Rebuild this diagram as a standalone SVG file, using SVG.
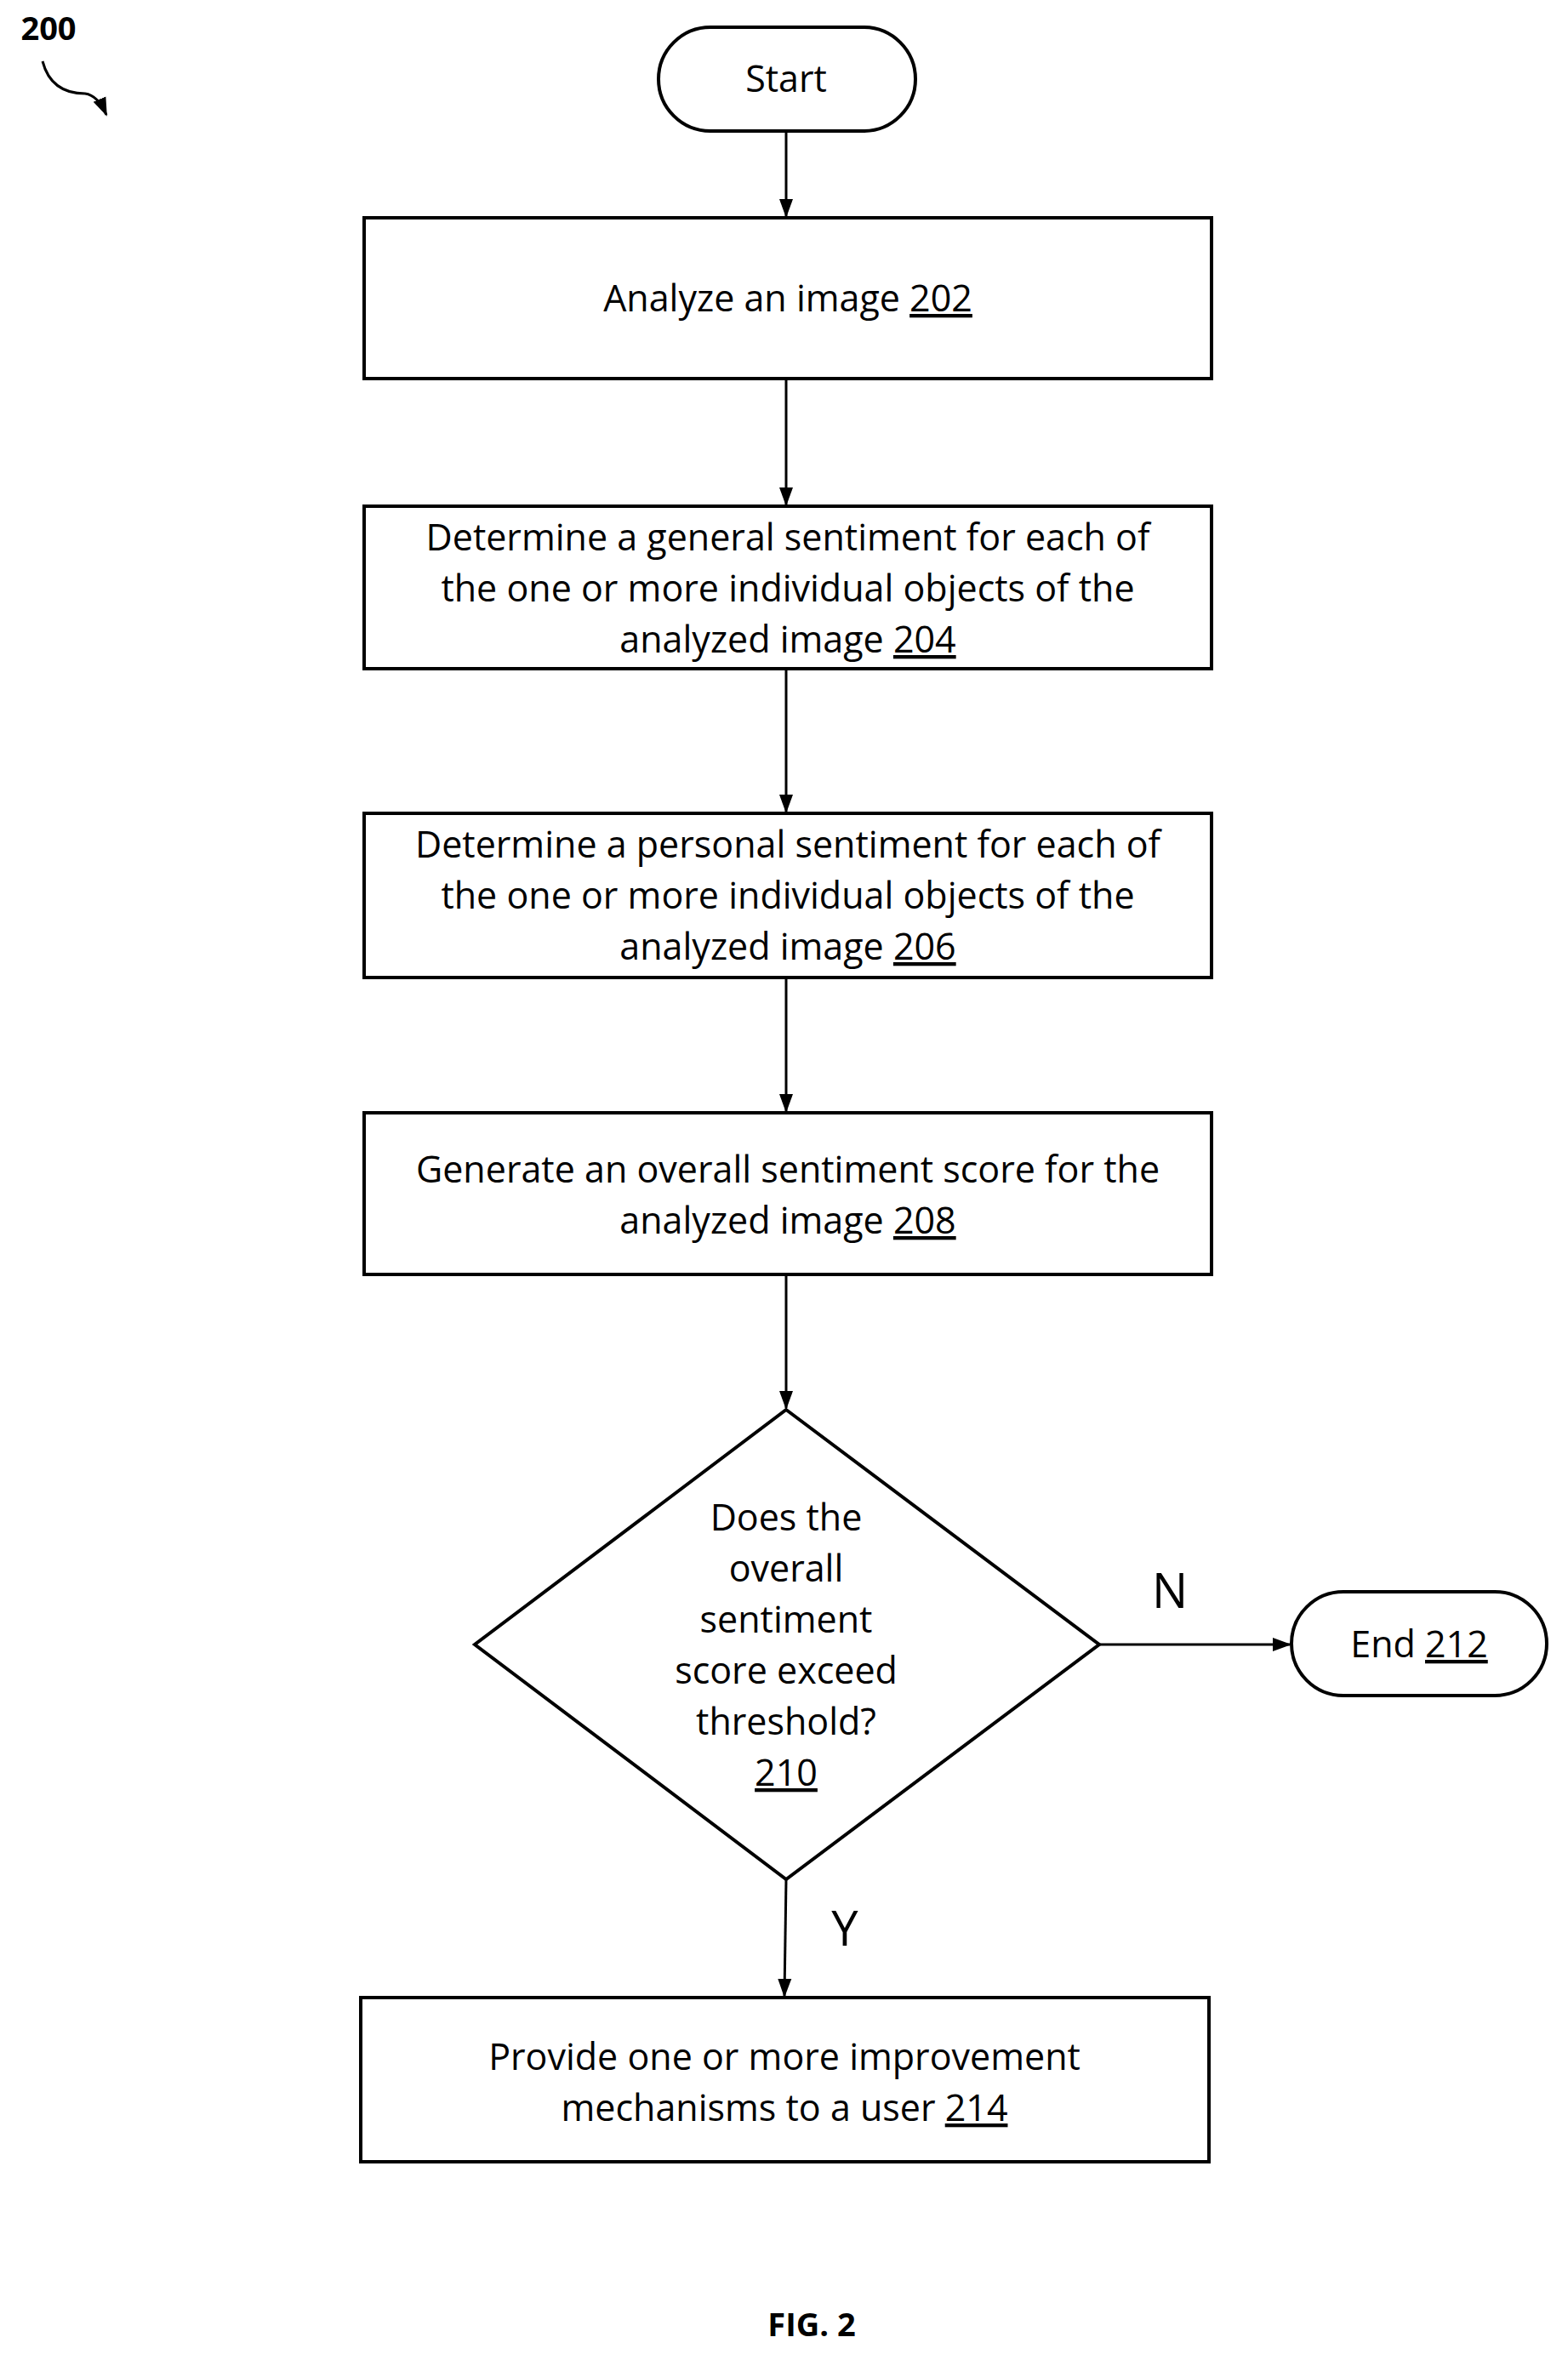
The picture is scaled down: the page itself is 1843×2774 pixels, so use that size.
<svg xmlns="http://www.w3.org/2000/svg" width="1843" height="2774" viewBox="0 0 1843 2774">
<style>
.s{fill:#fff;stroke:#000;stroke-width:4}
.c{fill:none;stroke:#000;stroke-width:3}
text{font-family:"Open Sans","Liberation Sans",sans-serif;font-size:43px;text-anchor:middle;fill:#000}
.u{text-decoration:underline}
.b{font-weight:bold}
</style>
<defs><marker id="a2" markerWidth="22" markerHeight="22" refX="20" refY="11" orient="auto" markerUnits="userSpaceOnUse" viewBox="0 0 22 22"><path d="M0,3L22,11L0,19z" fill="#000"/></marker></defs>
<rect width="1843" height="2774" fill="#fff"/>
<g id="label200"><text x="57" y="47" class="b" style="font-size:38px">200</text>
<path d="M50,72 Q60,110 100,110 Q115,112 125,135" class="c" marker-end="url(#a2)"/></g>
<g id="connectors">
<path d="M924,154V254" class="c" marker-end="url(#a2)"/>
<path d="M924,445V593" class="c" marker-end="url(#a2)"/>
<path d="M924,786V954" class="c" marker-end="url(#a2)"/>
<path d="M924,1149V1306" class="c" marker-end="url(#a2)"/>
<path d="M924,1498V1655" class="c" marker-end="url(#a2)"/>
<path d="M1292,1933H1516" class="c" marker-end="url(#a2)"/>
<path d="M924,2209L922,2346" class="c" marker-end="url(#a2)"/>
<text x="1375" y="1890" style="font-size:56px">N</text>
<text x="993" y="2287" style="font-size:56px">Y</text>
</g>
<g id="start"><rect x="774" y="32" width="302" height="122" rx="61" class="s"/><text x="924" y="108">Start</text></g>
<g id="n202"><rect x="428" y="256" width="996" height="189" class="s"/><text x="926" y="366">Analyze an image <tspan class="u">202</tspan></text></g>
<g id="n204"><rect x="428" y="595" width="996" height="191" class="s"/><text x="926" y="647">Determine a general sentiment for each of</text><text x="926" y="707">the one or more individual objects of the</text><text x="926" y="767">analyzed image <tspan class="u">204</tspan></text></g>
<g id="n206"><rect x="428" y="956" width="996" height="193" class="s"/><text x="926" y="1008">Determine a personal sentiment for each of</text><text x="926" y="1068">the one or more individual objects of the</text><text x="926" y="1128">analyzed image <tspan class="u">206</tspan></text></g>
<g id="n208"><rect x="428" y="1308" width="996" height="190" class="s"/><text x="926" y="1390">Generate an overall sentiment score for the</text><text x="926" y="1450">analyzed image <tspan class="u">208</tspan></text></g>
<g id="n210"><path d="M924,1657L1292,1933L924,2209L558,1933Z" class="s"/>
<text x="924" y="1799">Does the</text><text x="924" y="1859">overall</text><text x="924" y="1919">sentiment</text><text x="924" y="1979">score exceed</text><text x="924" y="2039">threshold?</text><text x="924" y="2099" class="u">210</text></g>
<g id="n212"><rect x="1518" y="1871" width="300" height="122" rx="61" class="s"/><text x="1668" y="1948">End <tspan class="u">212</tspan></text></g>
<g id="n214"><rect x="424" y="2348" width="997" height="193" class="s"/><text x="922" y="2433">Provide one or more improvement</text><text x="922" y="2493">mechanisms to a user <tspan class="u">214</tspan></text></g>
<text x="954" y="2746" class="b" style="font-size:38px">FIG. 2</text>
</svg>
